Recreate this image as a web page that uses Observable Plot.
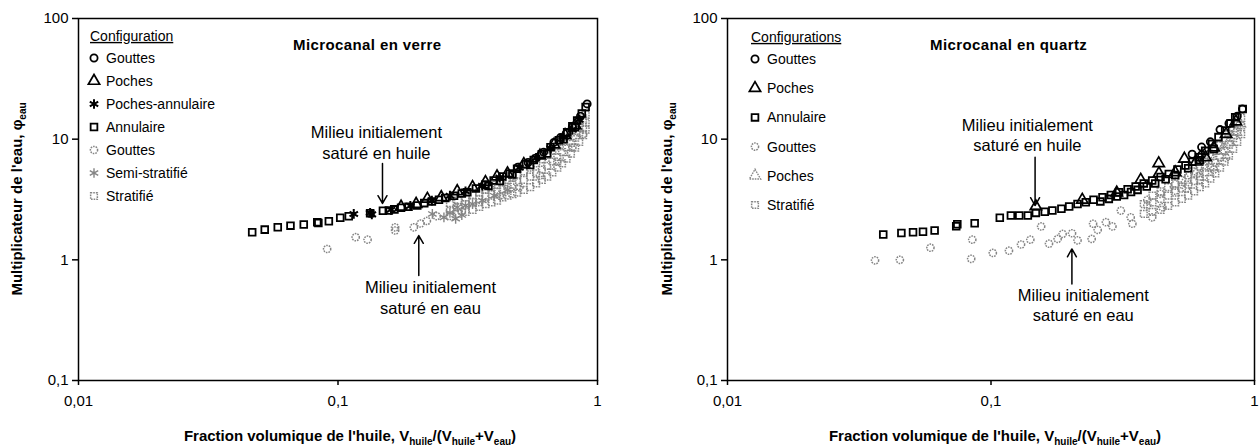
<!DOCTYPE html>
<html><head><meta charset="utf-8">
<script src="https://cdn.jsdelivr.net/npm/d3@7"></script>
<script src="https://cdn.jsdelivr.net/npm/@observablehq/plot@0.6"></script>
<style>
body{margin:0;background:#fff;}
#wrap{display:flex;width:1259px;height:448px;overflow:hidden;font-family:"Liberation Sans",Arial,sans-serif;}
#wrap svg{overflow:visible;flex:none;}
</style></head><body><div id="wrap"></div>
<script>
// ---------- tick values ----------
const xTicks = [0.01, 0.1, 1];
const yTicks = [0.1, 1, 10, 100];

// ---------- Microcanal en verre ----------
const verreGouttesH_x = [0.493,0.540,0.577,0.620,0.679,0.720,0.760,0.800,0.860,0.912];
const verreGouttesH_y = [5.85,6.4,6.95,7.8,9.4,10.3,11.2,12.6,15.5,19.6];
const verrePochesH_x = [0.175,0.200,0.221,0.250,0.288,0.330,0.370,0.410,0.450,0.520,0.600,0.680,0.750,0.820];
const verrePochesH_y = [2.75,2.9,3.2,3.3,3.7,4.0,4.4,4.9,5.2,6.2,7.3,9.0,10.8,13.0];
const verrePochesAnnH_x = [0.115,0.133,0.135,0.160,0.190,0.230,0.270,0.310,0.360,0.420,0.500,0.580,0.660,0.740,0.800,0.850];
const verrePochesAnnH_y = [2.40,2.45,2.38,2.6,2.8,3.1,3.4,3.7,4.1,4.8,5.8,7.0,8.4,10.4,12.0,14.5];
const verreAnnulaireH_x = [0.0467,0.0522,0.0586,0.0656,0.0738,0.0832,0.0840,0.0922,0.102,0.110,0.133,0.149,0.157,0.165,0.175,0.187,0.202,0.215,0.230,0.245,0.259,0.280,0.300,0.315,0.340,0.370,0.398,0.430,0.460,0.490,0.530,0.568,0.610,0.659,0.710,0.764,0.800,0.835,0.870,0.900,0.380,0.420,0.470,0.550,0.640,0.740,0.820];
const verreAnnulaireH_y = [1.69,1.78,1.86,1.92,1.96,2.05,2.02,2.09,2.23,2.30,2.43,2.55,2.56,2.62,2.70,2.75,2.82,2.95,3.05,3.15,3.26,3.40,3.55,3.63,3.90,4.20,4.54,4.90,5.20,5.68,6.20,6.73,7.50,8.57,9.80,11.4,12.8,14.3,16.3,18.5,4.10,4.50,5.10,6.10,7.60,10.0,12.6];
const verreGouttesE_x = [0.0908,0.117,0.130,0.166,0.166,0.196,0.208,0.220,0.240,0.30,0.35,0.42,0.50,0.60,0.70,0.80,0.88];
const verreGouttesE_y = [1.23,1.54,1.47,1.75,1.86,1.86,2.0,2.1,2.3,2.5,3.0,3.4,4.0,5.0,6.5,8.5,11.0];
const verreSemiE_x = [0.231,0.256,0.270,0.284,0.288,0.300,0.310,0.330,0.360,0.400,0.450];
const verreSemiE_y = [2.40,2.25,2.45,2.19,2.73,2.35,2.82,2.9,3.1,3.4,3.8];
const verreStratE_x = [0.27,0.27,0.27,0.29,0.29,0.29,0.31,0.31,0.31,0.33,0.33,0.33,0.35,0.35,0.35,0.37,0.37,0.37,0.39,0.39,0.39,0.41,0.41,0.41,0.43,0.43,0.43,0.45,0.45,0.45,0.47,0.47,0.47,0.49,0.49,0.49,0.52,0.52,0.52,0.55,0.55,0.55,0.58,0.58,0.58,0.61,0.61,0.61,0.64,0.64,0.64,0.67,0.67,0.67,0.70,0.70,0.70,0.73,0.73,0.73,0.76,0.76,0.76,0.79,0.79,0.79,0.82,0.82,0.82,0.85,0.85,0.85,0.88,0.88,0.88,0.90,0.90,0.90];
const verreStratE_y = [2.3,2.6,2.9,2.4,2.75,3.1,2.5,2.9,3.3,2.6,3.0,3.45,2.75,3.2,3.6,2.9,3.35,3.8,3.0,3.5,4.0,3.1,3.65,4.2,3.3,3.85,4.4,3.4,4.0,4.6,3.5,4.2,4.9,3.6,4.4,5.1,3.8,4.6,5.4,4.0,4.9,5.8,4.3,5.2,6.3,4.6,5.6,6.8,4.9,6.0,7.4,5.3,6.5,8.0,5.8,7.1,8.7,6.3,7.8,9.5,6.9,8.5,10.4,7.6,9.3,11.4,8.5,10.3,12.4,9.5,11.4,13.6,10.8,12.6,14.8,12.0,13.8,16.0];
const verreNoteX = [0.1406, 0.2272];
const verreNoteY = [9.47, 0.492];
const verreNoteText = ["Milieu initialement\nsaturé en huile", "Milieu initialement\nsaturé en eau"];
const verreArrowX = [0.1484, 0.2048];
const verreArrowY1 = [6.28, 0.741];
const verreArrowY2 = [2.93, 1.59];

// ---------- Microcanal en quartz ----------
const quartzGouttesH_x = [0.580,0.630,0.630,0.680,0.740,0.800,0.860,0.900];
const quartzGouttesH_y = [7.5,8.6,7.4,9.5,12.0,13.5,15.5,17.8];
const quartzPochesH_x = [0.148,0.222,0.300,0.370,0.434,0.433,0.500,0.542,0.600,0.652,0.700,0.780,0.850];
const quartzPochesH_y = [2.77,3.14,3.6,4.6,5.2,6.3,5.3,6.87,6.5,7.08,8.5,11.0,14.0];
const quartzAnnulaireH_x = [0.039,0.0457,0.0506,0.0552,0.0611,0.0738,0.0745,0.0867,0.108,0.119,0.128,0.138,0.148,0.160,0.171,0.185,0.198,0.213,0.229,0.245,0.265,0.285,0.306,0.330,0.354,0.380,0.409,0.440,0.473,0.510,0.547,0.580,0.614,0.650,0.690,0.730,0.774,0.810,0.845,0.902,0.260,0.280,0.300,0.320,0.340,0.360,0.390,0.420,0.460,0.500,0.560,0.620,0.700];
const quartzAnnulaireH_y = [1.62,1.67,1.69,1.71,1.75,1.90,1.97,2.01,2.23,2.33,2.33,2.33,2.45,2.50,2.56,2.65,2.77,2.90,3.00,3.15,3.30,3.45,3.63,3.85,4.05,4.30,4.54,4.85,5.15,5.60,6.04,6.50,7.08,8.00,9.13,10.4,11.8,13.5,15.2,17.8,3.05,3.20,3.35,3.45,3.65,3.80,4.05,4.30,4.65,5.05,5.75,6.70,8.30];
const quartzGouttesE_x = [0.0363,0.0451,0.0589,0.0841,0.0849,0.1016,0.117,0.130,0.141,0.155,0.166,0.179,0.187,0.203,0.213,0.241,0.244,0.254,0.273,0.289,0.311,0.339,0.344,0.392,0.409,0.447,0.392,0.44,0.50,0.55,0.62,0.70,0.78];
const quartzGouttesE_y = [0.99,1.0,1.26,1.02,1.47,1.14,1.19,1.34,1.47,1.89,1.36,1.49,1.64,1.66,1.45,1.49,1.99,1.77,2.05,1.89,2.56,2.25,1.99,2.82,2.25,2.73,3.14,3.52,3.75,3.9,4.6,5.6,7.0];
const quartzPochesE_x = [0.50,0.55,0.60,0.65,0.70,0.75,0.80,0.85,0.88];
const quartzPochesE_y = [4.2,4.6,5.2,5.8,6.7,8.0,9.5,11.5,13.5];
const quartzStratE_x = [0.38,0.38,0.41,0.41,0.41,0.44,0.44,0.44,0.47,0.47,0.47,0.50,0.50,0.50,0.53,0.53,0.53,0.56,0.56,0.56,0.59,0.59,0.59,0.62,0.62,0.62,0.65,0.65,0.65,0.68,0.68,0.68,0.71,0.71,0.71,0.74,0.74,0.74,0.77,0.77,0.77,0.80,0.80,0.80,0.83,0.83,0.83,0.86,0.86,0.86,0.89,0.89,0.89];
const quartzStratE_y = [2.4,2.9,2.5,3.0,3.4,2.6,3.2,3.7,2.8,3.4,4.0,3.0,3.6,4.3,3.2,3.9,4.6,3.4,4.2,5.0,3.7,4.5,5.4,4.0,4.9,5.9,4.3,5.3,6.5,4.7,5.8,7.2,5.2,6.4,8.0,5.8,7.1,8.9,6.5,8.0,9.9,7.3,9.0,11.0,8.3,10.2,12.3,9.5,11.5,13.6,11.0,13.0,15.0];
const quartzNoteX = [0.1374, 0.224];
const quartzNoteY = [10.9, 0.427];
const quartzNoteText = ["Milieu initialement\nsaturé en huile", "Milieu initialement\nsaturé en eau"];
const quartzArrowX = [0.147, 0.2028];
const quartzArrowY1 = [7.08, 0.632];
const quartzArrowY2 = [2.82, 1.23];

// ---------- styles ----------
const BLACK = "#000", GRAY = "#858585";
const styles = {
  gouttesH:{symbol:"circle", r:3.6, stroke:BLACK, sw:1.8, dash:null},
  pochesH:{symbol:"triangle", r:4.2, stroke:BLACK, sw:1.7, dash:null},
  pochesAnnH:{symbol:"asterisk", r:4.6, stroke:BLACK, sw:2, dash:null},
  annulaireH:{symbol:"square", r:3.8, stroke:BLACK, sw:1.8, dash:null},
  gouttesE:{symbol:"circle", r:3.6, stroke:GRAY, sw:1.5, dash:"1.6 1"},
  semiE:{symbol:"asterisk", r:4.6, stroke:GRAY, sw:1.4, dash:null},
  stratE:{symbol:"square", r:3.8, stroke:GRAY, sw:1.5, dash:"1.6 1"},
  pochesE:{symbol:"triangle", r:4.2, stroke:GRAY, sw:1.4, dash:"1.6 1"}
};
const zip = (xs, ys) => xs.map((x, i) => ({x, y: ys[i]}));
const fmt = d => String(d).replace(".", ",");
const FONT = "'Liberation Sans', Arial, sans-serif";

function panel({width, ml, mr, series, notes, arrows, legendTitle, legend, lx, ly0, lstep, title, tx, xlabelX, ylabelX}) {
  const marks = [];
  for (const s of series) {
    const st = styles[s.style];
    marks.push(Plot.dot(s.data, {x:"x", y:"y", symbol:st.symbol, r:st.r, stroke:st.stroke, strokeWidth:st.sw, strokeDasharray:st.dash, fill:"none"}));
  }
  marks.push(Plot.frame({stroke:BLACK, strokeWidth:1.5}));
  marks.push(Plot.axisX({ticks:xTicks, tickFormat:fmt, tickSize:5, tickPadding:10, fontSize:15, label:null, strokeWidth:1.5}));
  marks.push(Plot.axisY({ticks:yTicks, tickFormat:fmt, tickSize:6, tickPadding:4, fontSize:15, label:null, strokeWidth:1.5}));
  marks.push(Plot.text(notes, {x:"x", y:"y", text:"text", fontSize:16.5, lineHeight:1.22, fill:BLACK}));
  marks.push(Plot.arrow(arrows, {x1:"x", y1:"y1", x2:"x", y2:"y2", stroke:BLACK, strokeWidth:1.5, headLength:9}));
  const svg = Plot.plot({
    width, height:448, marginLeft:ml, marginRight:mr, marginTop:18, marginBottom:68,
    x:{type:"log", domain:[0.01, 1]},
    y:{type:"log", domain:[0.1, 100]},
    style:{fontFamily:FONT, color:BLACK, background:"white"},
    marks
  });
  const g = d3.select(svg).append("g").attr("font-family", FONT).attr("fill", BLACK).attr("text-anchor", "start");
  // legend
  g.append("text").attr("x", lx - 4).attr("y", ly0 - 22).attr("dy", "0.35em").attr("font-size", 14)
    .attr("text-anchor", "start").attr("text-decoration", "underline").text(legendTitle);
  legend.forEach((e, i) => {
    const st = styles[e.style];
    const y = ly0 + i * lstep;
    const type = {circle:d3.symbolCircle, triangle:d3.symbolTriangle, asterisk:d3.symbolAsterisk, square:d3.symbolSquare}[st.symbol];
    g.append("path").attr("d", d3.symbol(type, Math.PI * st.r * st.r)())
      .attr("transform", `translate(${lx},${y})`).attr("fill", "none").attr("stroke", st.stroke)
      .attr("stroke-width", st.sw).attr("stroke-dasharray", st.dash);
    g.append("text").attr("x", lx + 12).attr("y", y).attr("dy", "0.35em").attr("font-size", 14)
      .attr("text-anchor", "start").text(e.label);
  });
  // title
  g.append("text").attr("x", tx).attr("y", 45).attr("dy", "0.35em").attr("font-size", 15).attr("text-anchor", "start")
    .attr("font-weight", "bold").attr("letter-spacing", "0.4px").text(title);
  // x label
  const xl = g.append("text").attr("x", xlabelX).attr("y", 436).attr("dy", "0.35em").attr("text-anchor", "middle")
    .attr("font-size", 15).attr("font-weight", "bold");
  xl.append("tspan").text("Fraction volumique de l'huile, V");
  xl.append("tspan").attr("dy", 4).attr("font-size", 10).text("huile");
  xl.append("tspan").attr("dy", -4).text("/(V");
  xl.append("tspan").attr("dy", 4).attr("font-size", 10).text("huile");
  xl.append("tspan").attr("dy", -4).text("+V");
  xl.append("tspan").attr("dy", 4).attr("font-size", 10).text("eau");
  xl.append("tspan").attr("dy", -4).text(")");
  // y label
  const yl = g.append("text").attr("transform", `translate(${ylabelX},199) rotate(-90)`).attr("dy", "0.35em")
    .attr("text-anchor", "middle").attr("font-size", 15).attr("font-weight", "bold");
  yl.append("tspan").text("Multiplicateur de l'eau, φ");
  yl.append("tspan").attr("dy", 4).attr("font-size", 10).text("eau");
  return svg;
}

const verre = panel({
  width:630, ml:78, mr:33,
  series:[
    {style:"stratE", data:zip(verreStratE_x, verreStratE_y)},
    {style:"gouttesE", data:zip(verreGouttesE_x, verreGouttesE_y)},
    {style:"semiE", data:zip(verreSemiE_x, verreSemiE_y)},
    {style:"annulaireH", data:zip(verreAnnulaireH_x, verreAnnulaireH_y)},
    {style:"pochesAnnH", data:zip(verrePochesAnnH_x, verrePochesAnnH_y)},
    {style:"pochesH", data:zip(verrePochesH_x, verrePochesH_y)},
    {style:"gouttesH", data:zip(verreGouttesH_x, verreGouttesH_y)}
  ],
  notes: verreNoteX.map((x, i) => ({x, y:verreNoteY[i], text:verreNoteText[i]})),
  arrows: verreArrowX.map((x, i) => ({x, y1:verreArrowY1[i], y2:verreArrowY2[i]})),
  legendTitle:"Configuration",
  legend:[
    {style:"gouttesH", label:"Gouttes"},
    {style:"pochesH", label:"Poches"},
    {style:"pochesAnnH", label:"Poches-annulaire"},
    {style:"annulaireH", label:"Annulaire"},
    {style:"gouttesE", label:"Gouttes"},
    {style:"semiE", label:"Semi-stratifié"},
    {style:"stratE", label:"Stratifié"}
  ],
  lx:94, ly0:58, lstep:23,
  title:"Microcanal en verre", tx:293, xlabelX:350, ylabelX:17
});

const quartz = panel({
  width:629, ml:97, mr:5,
  series:[
    {style:"stratE", data:zip(quartzStratE_x, quartzStratE_y)},
    {style:"pochesE", data:zip(quartzPochesE_x, quartzPochesE_y)},
    {style:"gouttesE", data:zip(quartzGouttesE_x, quartzGouttesE_y)},
    {style:"annulaireH", data:zip(quartzAnnulaireH_x, quartzAnnulaireH_y)},
    {style:"pochesH", data:zip(quartzPochesH_x, quartzPochesH_y)},
    {style:"gouttesH", data:zip(quartzGouttesH_x, quartzGouttesH_y)}
  ],
  notes: quartzNoteX.map((x, i) => ({x, y:quartzNoteY[i], text:quartzNoteText[i]})),
  arrows: quartzArrowX.map((x, i) => ({x, y1:quartzArrowY1[i], y2:quartzArrowY2[i]})),
  legendTitle:"Configurations",
  legend:[
    {style:"gouttesH", label:"Gouttes"},
    {style:"pochesH", label:"Poches"},
    {style:"annulaireH", label:"Annulaire"},
    {style:"gouttesE", label:"Gouttes"},
    {style:"pochesE", label:"Poches"},
    {style:"stratE", label:"Stratifié"}
  ],
  lx:125, ly0:59, lstep:29.2,
  title:"Microcanal en quartz", tx:300, xlabelX:365, ylabelX:37
});

document.getElementById("wrap").append(verre, quartz);
</script></body></html>
